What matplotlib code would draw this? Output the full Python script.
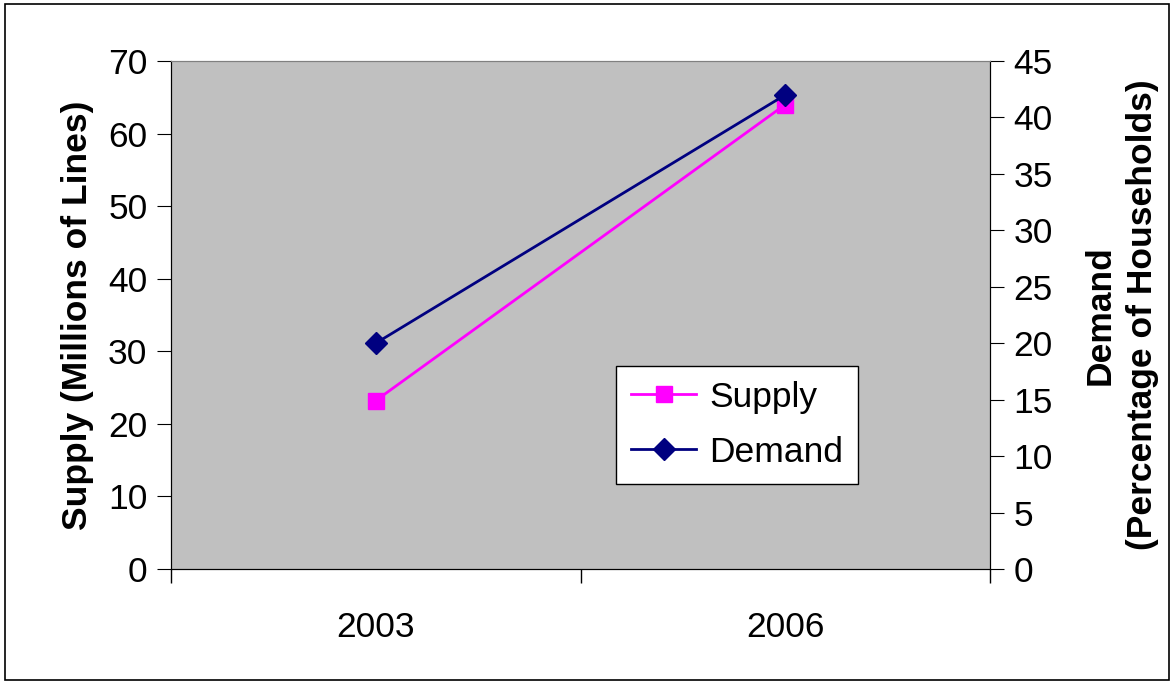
import matplotlib.pyplot as plt
from matplotlib.patches import Rectangle

plt.rcParams['font.family'] = ['Liberation Sans', 'DejaVu Sans']

years = ["2003", "2006"]
supply = [23.2, 64.0]
demand = [20.0, 42.0]

W, H = 1172, 681
fig = plt.figure(figsize=(W/100, H/100), dpi=100)
fig.patch.set_facecolor('white')
fig.add_artist(Rectangle((5/W, 1/H), 1164/W, 676/H, transform=fig.transFigure,
                         fill=False, edgecolor='black', linewidth=1.2))

l, r, t, b = 171, 990, 61, 569
ax = fig.add_axes([l/W, 1-b/H, (r-l)/W, (b-t)/H])
ax.set_facecolor('#c0c0c0')
x = [0, 1]
ax2 = ax.twinx()
ax.plot(x, supply, color='#ff00ff', marker='s', markersize=11, linewidth=2, label='Supply', zorder=3)
ax2.plot(x, demand, color='#000080', marker='D', markersize=11, linewidth=2, label='Demand', zorder=3)

ax.set_xlim(-0.5, 1.5)
ax.set_ylim(0, 70)
ax2.set_ylim(0, 45)
ax.set_yticks(range(0, 71, 10))
ax2.set_yticks(range(0, 46, 5))
ax.set_xticks([-0.5, 0.5, 1.5])
ax.set_xticklabels([])
ax.set_xticks(x, minor=True)
ax.set_xticklabels(years, minor=True)
fs = 25.5
ax.tick_params(axis='x', which='major', direction='out', length=10, width=1)
ax.tick_params(axis='x', which='minor', length=0, labelsize=fs, pad=30)
ax.tick_params(axis='y', direction='out', length=10, labelsize=fs, pad=7)
ax2.tick_params(axis='y', direction='out', length=10, labelsize=fs, pad=7)

for a in (ax, ax2):
    a.spines['top'].set_color('#808080')
    a.spines['left'].set_color('black')
    a.spines['right'].set_color('black')
    a.spines['bottom'].set_color('black')

ax.set_ylabel('Supply (Millions of Lines)', fontsize=fs, fontweight='bold', labelpad=10)
ax2.set_ylabel('Demand\n(Percentage of Households)', fontsize=fs, fontweight='bold',
               rotation=90, labelpad=22, linespacing=1.35)

h1, l1 = ax.get_legend_handles_labels()
h2, l2 = ax2.get_legend_handles_labels()
leg = ax2.legend(h1 + h2, l1 + l2, loc='upper left',
                 bbox_to_anchor=((616-l)/(r-l), 1-(366-t)/(b-t)),
                 fontsize=fs, frameon=True, fancybox=False, edgecolor='black',
                 framealpha=1, handlelength=1.85, handletextpad=0.37,
                 borderpad=0.42, labelspacing=0.62, borderaxespad=0)
leg.get_frame().set_linewidth(1)

fig.savefig('out.png', dpi=100)
